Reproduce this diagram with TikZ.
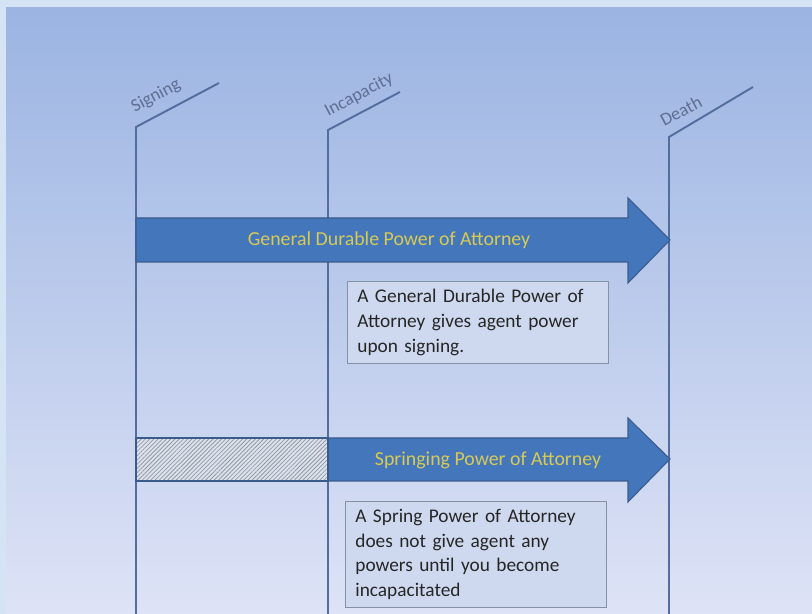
\documentclass[tikz,border=0pt]{standalone}
\usepackage{fontspec}
\setmainfont{Carlito}
\usetikzlibrary{patterns.meta}
\definecolor{framebg}{RGB}{213,228,245}
\definecolor{bgtop}{RGB}{155,180,226}
\definecolor{bgbot}{RGB}{222,227,246}
\definecolor{tline}{RGB}{82,110,158}
\definecolor{arrowfill}{RGB}{68,118,188}
\definecolor{arrowedge}{RGB}{58,92,140}
\definecolor{arrowtext}{RGB}{215,202,85}
\definecolor{boxfill}{RGB}{206,217,240}
\definecolor{boxedge}{RGB}{135,145,165}
\definecolor{labelcol}{RGB}{95,110,145}
\definecolor{hatchbg}{RGB}{218,227,242}
\begin{document}
\begin{tikzpicture}[x=0.02cm,y=-0.02cm,
  timeline/.style={draw=tline,line width=1.1pt},
  powerarrow/.style={fill=arrowfill,draw=arrowedge,line width=0.6pt},
  arrowlabel/.style={text=arrowtext,font=\fontsize{11.3}{13}\selectfont},
  notebox/.style={draw=boxedge,fill=boxfill,align=left,text width=4.82cm,
    inner xsep=5.7pt,inner ysep=4.6pt,text=black!85,anchor=north west,
    font=\fontsize{11}{14}\selectfont},
  eventlabel/.style={text=labelcol,rotate=28,font=\fontsize{10.3}{12}\selectfont}]
% background
\fill[framebg] (0,0) rectangle (812,614);
\shade[top color=bgtop,bottom color=bgbot] (6,8) rectangle (812,614);
\useasboundingbox (0,0) rectangle (812,614);
% time lines
\coordinate (sign) at (136,127);
\coordinate (incap) at (328,130);
\coordinate (death) at (669,137);
\draw[timeline] (136,614) -- (sign) -- ++(83,-44);
\draw[timeline] (328,614) -- (incap) -- ++(72,-38);
\draw[timeline] (669,614) -- (death) -- ++(84,-50);
\node[eventlabel] (signlbl) at (156,96) {Signing};
\node[eventlabel] (incaplbl) at (359,95) {Incapacity};
\node[eventlabel] (deathlbl) at (681,111) {Death};
% general durable power
\draw[powerarrow] (136,218) -- (628,218) -- (628,198) -- (670,240)
  -- (628,283) -- (628,262) -- (136,262) -- cycle;
\node[arrowlabel] (gdpa) at (389,240) {General Durable Power of Attorney};
\node[notebox] (gdpanote) at (347,281)
  {A General Durable Power of\\ Attorney gives agent power\\ upon signing.};
% springing power
\draw[powerarrow] (328,438) -- (628,438) -- (628,418) -- (670,459)
  -- (628,502) -- (628,481) -- (328,481) -- cycle;
\fill[hatchbg] (136,438) rectangle (328,481);
\fill[pattern={Lines[angle=45,distance=1.7pt,line width=0.45pt]},pattern color=gray!80]
  (136,438) rectangle (328,481);
\draw[arrowedge,line width=0.6pt] (136,438) rectangle (328,481);
\node[arrowlabel] (spa) at (488,460) {Springing Power of Attorney};
\node[notebox] (spanote) at (345,501)
  {A Spring Power of Attorney\\ does not give agent any\\ powers until you become\\ incapacitated};
\end{tikzpicture}
\end{document}
